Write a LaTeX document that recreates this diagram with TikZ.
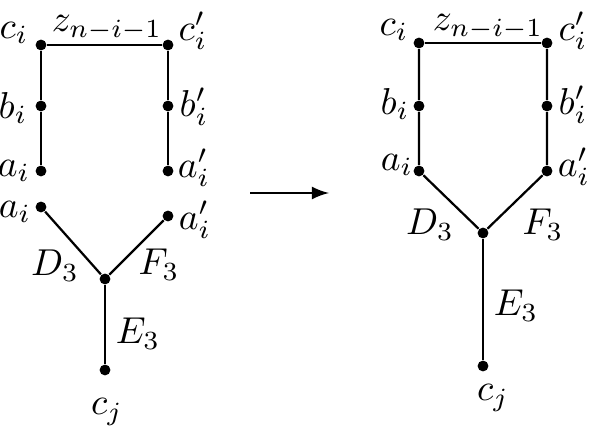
\documentclass[tikz,border=0pt]{standalone}
\usepackage{tikz}
\usetikzlibrary{arrows}

\begin{document}
\begin{tikzpicture}[
    x=0.267pt, y=-0.267pt,
    vertex/.style={circle, fill=black, inner sep=0pt, minimum size=2.9pt},
    edge/.style={line width=0.6pt},
    lbl/.style={inner sep=0pt}
]
    \useasboundingbox (0,0) rectangle (590,432);

    % left: before
    \node[vertex] (ci) at (41,45) {};
    \node[vertex] (cpi) at (168,45) {};
    \node[vertex] (bi) at (41,106) {};
    \node[vertex] (bpi) at (168,106) {};
    \node[vertex] (ai) at (41,171) {};
    \node[vertex] (api) at (168,171) {};
    \node[vertex] (aiB) at (41,207) {};
    \node[vertex] (apiB) at (168,216) {};
    \node[vertex] (mid) at (105,279) {};
    \node[vertex] (cj) at (105,370) {};

    \draw[edge] (ci) -- (cpi);
    \draw[edge] (ci) -- (bi) -- (ai);
    \draw[edge] (cpi) -- (bpi) -- (api);
    \draw[edge] (aiB) -- (mid);
    \draw[edge] (apiB) -- (mid);
    \draw[edge] (mid) -- (cj);

    \node[lbl] (ciL) at (14,33) {$c_i$};
    \node[lbl] (zL) at (107,28) {$z_{n-i-1}$};
    \node[lbl] (cpiL) at (193,31) {$c'_i$};
    \node[lbl] (biL) at (13,108) {$b_i$};
    \node[lbl] (bpiL) at (194,107) {$b'_i$};
    \node[lbl] (aiL) at (14,171) {$a_i$};
    \node[lbl] (apiL) at (194,168) {$a'_i$};
    \node[lbl] (aiBL) at (15,212) {$a_i$};
    \node[lbl] (apiBL) at (195,220) {$a'_i$};
    \node[lbl] (D) at (55,266) {$D_3$};
    \node[lbl] (F) at (159,265) {$F_3$};
    \node[lbl] (E) at (138,334) {$E_3$};
    \node[lbl] (cjL) at (107,412) {$c_j$};

    % arrow
    \coordinate (arrS) at (250,193);
    \coordinate (arrE) at (329,193);
    \draw[edge, -latex] (arrS) -- (arrE);

    % right: after
    \node[vertex] (rci) at (419,43) {};
    \node[vertex] (rcpi) at (547,43) {};
    \node[vertex] (rbi) at (419,106) {};
    \node[vertex] (rbpi) at (547,106) {};
    \node[vertex] (rai) at (419,171) {};
    \node[vertex] (rapi) at (547,171) {};
    \node[vertex] (rmid) at (483,233) {};
    \node[vertex] (rcj) at (483,366) {};

    \draw[edge] (rci) -- (rcpi);
    \draw[edge] (rci) -- (rbi) -- (rai) -- (rmid);
    \draw[edge] (rcpi) -- (rbpi) -- (rapi) -- (rmid);
    \draw[edge] (rmid) -- (rcj);

    \node[lbl] (rciL) at (394,30) {$c_i$};
    \node[lbl] (rzL) at (488,27) {$z_{n-i-1}$};
    \node[lbl] (rcpiL) at (573,31) {$c'_i$};
    \node[lbl] (rbiL) at (395,104) {$b_i$};
    \node[lbl] (rbpiL) at (573,105) {$b'_i$};
    \node[lbl] (raiL) at (397,165) {$a_i$};
    \node[lbl] (rapiL) at (574,167) {$a'_i$};
    \node[lbl] (rD) at (430,225) {$D_3$};
    \node[lbl] (rF) at (543,225) {$F_3$};
    \node[lbl] (rE) at (516,306) {$E_3$};
    \node[lbl] (rcjL) at (493,398) {$c_j$};
\end{tikzpicture}
\end{document}
